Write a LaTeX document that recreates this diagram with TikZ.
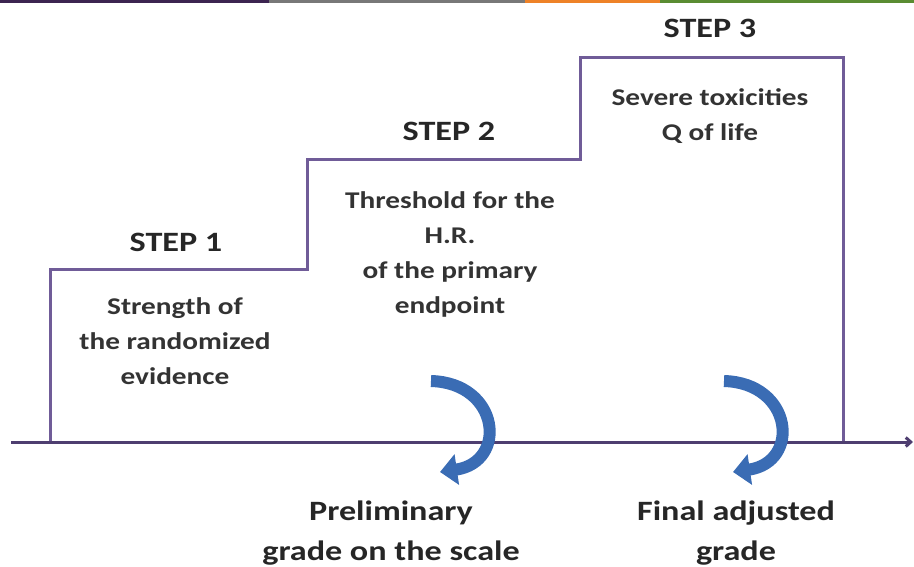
\documentclass[tikz,border=0pt]{standalone}
\usepackage{fontspec}
\setmainfont{Carlito}[FakeStretch=1.22]
\usetikzlibrary{arrows.meta}
\definecolor{stairline}{RGB}{112,92,152}
\definecolor{axisline}{RGB}{78,62,112}
\definecolor{turnblue}{RGB}{58,108,180}
\definecolor{bardark}{RGB}{60,36,80}
\definecolor{bargray}{RGB}{120,120,120}
\definecolor{barorange}{RGB}{238,130,40}
\definecolor{bargreen}{RGB}{90,140,50}
\tikzset{
	steptitle/.style={font=\fontsize{28}{30}\selectfont\bfseries, text=black!85},
	steptext/.style={font=\fontsize{24}{35}\selectfont\bfseries, text=black!80, align=center},
	gradetext/.style={font=\fontsize{28}{40}\selectfont\bfseries, text=black!85, align=center},
	turnarrow/.style={turnblue, line width=12pt, -{Triangle[width=30pt,length=17pt]}}
}
\begin{document}
\begin{tikzpicture}[x=1pt,y=-1pt]
		\useasboundingbox (0,0) rectangle (914,567);
		% coloured strip along the top
		\fill[bardark] (0,0) rectangle (269,3);
		\fill[bargray] (269,0) rectangle (525,3);
		\fill[barorange] (525,0) rectangle (660,3);
		\fill[bargreen] (660,0) rectangle (914,3);
		% staircase
		\coordinate (s0) at (50,442);
		\coordinate (s1) at (50,269);
		\coordinate (s2) at (307,269);
		\coordinate (s3) at (307,160);
		\coordinate (s4) at (580,160);
		\coordinate (s5) at (580,58);
		\coordinate (s6) at (843,58);
		\coordinate (s7) at (843,442);
		\draw[stairline, line width=3pt] (s0) -- (s1) -- (s2) -- (s3) -- (s4) -- (s5) -- (s6) -- (s7);
		% axis
		\coordinate (ax0) at (11,442);
		\coordinate (ax1) at (913,442);
		\draw[axisline, line width=3pt, -{Straight Barb[length=5pt,width=9pt]}] (ax0) -- (ax1);
		% step titles
		\node[steptitle] (step1) at (176,242) {STEP 1};
		\node[steptitle] (step2) at (449,131) {STEP 2};
		\node[steptitle] (step3) at (710,28) {STEP 3};
		% step contents
		\node[steptext, anchor=north] (text1) at (175,294) {Strength of\\the randomized\\evidence};
		\node[steptext, anchor=north] (text2) at (450,188) {Threshold for the\\H.R.\\of the primary\\endpoint};
		\node[steptext, anchor=north] (text3) at (710,85) {Severe toxicities\\Q of life};
		% turning arrows
		\coordinate (turn1a) at (431,381);
		\coordinate (turn1b) at (440,472);
		\coordinate (turn2a) at (724,381);
		\coordinate (turn2b) at (733,472);
		\draw[turnarrow] (turn1a) .. controls (500,383) and (508,462) .. (turn1b);
		\draw[turnarrow] (turn2a) .. controls (793,383) and (801,462) .. (turn2b);
		% grades
		\node[gradetext, anchor=north] (grade1) at (391,497) {Preliminary\\grade on the scale};
		\node[gradetext, anchor=north] (grade2) at (736,497) {Final adjusted\\grade};
\end{tikzpicture}
\end{document}
